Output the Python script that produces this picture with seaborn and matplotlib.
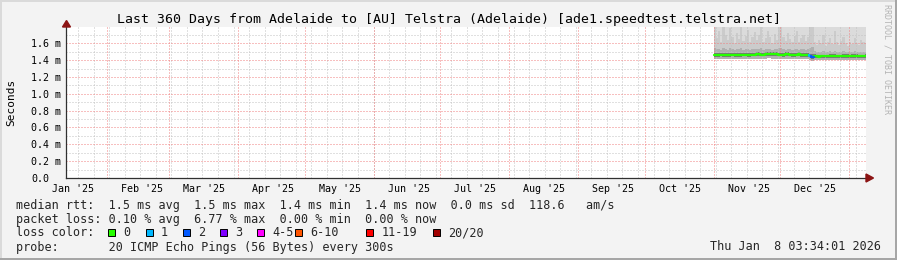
import numpy as np
import pandas as pd
import matplotlib
matplotlib.use("Agg")
import matplotlib.pyplot as plt
import matplotlib.dates as mdates
from matplotlib.patches import Polygon, Rectangle
import seaborn as sns

# ---------------- data ----------------
title = "Last 360 Days from Adelaide to [AU] Telstra (Adelaide) [ade1.speedtest.telstra.net]"
y_axis_label = "Seconds"
y_tick_values = [0.0, 0.2, 0.4, 0.6, 0.8, 1.0, 1.2, 1.4, 1.6]
y_tick_labels = ["0.0", "0.2 m", "0.4 m", "0.6 m", "0.8 m", "1.0 m", "1.2 m", "1.4 m", "1.6 m"]
month_labels = ["Jan '25", "Feb '25", "Mar '25", "Apr '25", "May '25", "Jun '25",
                "Jul '25", "Aug '25", "Sep '25", "Oct '25", "Nov '25", "Dec '25"]
month_starts = ["2025-01-01", "2025-02-01", "2025-03-01", "2025-04-01", "2025-05-01", "2025-06-01",
                "2025-07-01", "2025-08-01", "2025-09-01", "2025-10-01", "2025-11-01", "2025-12-01"]
graph_end = "2026-01-08 14:04"
graph_days = 360
y_top = 1.793

sample_start = "2025-11-01"   # daily samples, Nov 1 2025 .. Jan 8 2026
median_ms = [
    1.466, 1.463, 1.462, 1.465, 1.461, 1.458, 1.463, 1.464, 1.465, 1.466,
    1.464, 1.463, 1.462, 1.465, 1.466, 1.464, 1.463, 1.465, 1.466, 1.467,
    1.468, 1.466, 1.465, 1.467, 1.470, 1.472, 1.469, 1.468, 1.467, 1.466,
    1.466, 1.465, 1.467, 1.468, 1.466, 1.465, 1.464, 1.466, 1.467, 1.465,
    1.464, 1.463, 1.460, 1.452,
    1.440, 1.445,
    1.443, 1.442, 1.443, 1.444, 1.443, 1.444, 1.446, 1.448, 1.446, 1.444, 1.443, 1.444, 1.446, 1.447, 1.445,
    1.444, 1.446, 1.447, 1.445, 1.444, 1.443, 1.444, 1.445]
loss_pings = [0] * 43 + [1, 2, 0] + [0] * 23
smoke_min_ms = [
    1.412, 1.415, 1.414, 1.416, 1.410, 1.408, 1.413, 1.415, 1.416, 1.414,
    1.415, 1.414, 1.413, 1.416, 1.417, 1.415, 1.414, 1.416, 1.417, 1.418,
    1.418, 1.416, 1.415, 1.417, 1.419, 1.420, 1.418, 1.417, 1.416, 1.415,
    1.416, 1.415, 1.417, 1.418, 1.416, 1.415, 1.414, 1.416, 1.417, 1.415,
    1.414, 1.412, 1.408, 1.402,
    1.395, 1.400,
    1.402, 1.401, 1.402, 1.404, 1.403, 1.404, 1.405, 1.407, 1.405, 1.403, 1.402, 1.403, 1.405, 1.406, 1.404,
    1.403, 1.405, 1.406, 1.404, 1.403, 1.402, 1.403, 1.404]
smoke_lo_ms = [
    1.440, 1.442, 1.441, 1.443, 1.438, 1.436, 1.441, 1.442, 1.443, 1.442,
    1.442, 1.441, 1.440, 1.443, 1.444, 1.442, 1.441, 1.443, 1.444, 1.445,
    1.446, 1.444, 1.443, 1.445, 1.447, 1.449, 1.446, 1.445, 1.444, 1.443,
    1.443, 1.442, 1.444, 1.445, 1.443, 1.442, 1.441, 1.443, 1.444, 1.442,
    1.441, 1.440, 1.436, 1.428,
    1.418, 1.422,
    1.422, 1.421, 1.422, 1.423, 1.422, 1.423, 1.425, 1.427, 1.425, 1.423, 1.422, 1.423, 1.425, 1.426, 1.424,
    1.423, 1.425, 1.426, 1.424, 1.423, 1.422, 1.423, 1.424]
smoke_hi_ms = [
    1.490, 1.486, 1.485, 1.489, 1.484, 1.481, 1.487, 1.488, 1.489, 1.490,
    1.488, 1.487, 1.486, 1.489, 1.490, 1.488, 1.487, 1.489, 1.490, 1.491,
    1.492, 1.490, 1.489, 1.491, 1.494, 1.497, 1.493, 1.492, 1.491, 1.490,
    1.490, 1.489, 1.491, 1.492, 1.490, 1.489, 1.488, 1.490, 1.491, 1.489,
    1.488, 1.487, 1.484, 1.478,
    1.470, 1.468,
    1.465, 1.464, 1.465, 1.466, 1.465, 1.466, 1.468, 1.471, 1.468, 1.466, 1.465, 1.466, 1.468, 1.470, 1.467,
    1.466, 1.468, 1.470, 1.467, 1.466, 1.465, 1.466, 1.467]
smoke_mid_ms = [
    1.540, 1.528, 1.532, 1.525, 1.545, 1.530, 1.522, 1.538, 1.530, 1.524,
    1.533, 1.527, 1.541, 1.524, 1.531, 1.536, 1.522, 1.528, 1.534, 1.526,
    1.531, 1.542, 1.525, 1.529, 1.537, 1.532, 1.523, 1.533, 1.527, 1.540,
    1.544, 1.528, 1.524, 1.533, 1.527, 1.523, 1.530, 1.535, 1.524, 1.528,
    1.531, 1.525, 1.530, 1.545,
    1.560, 1.505,
    1.495, 1.500, 1.497, 1.506, 1.494, 1.499, 1.503, 1.496, 1.510, 1.498, 1.495, 1.500, 1.505, 1.497, 1.494,
    1.499, 1.496, 1.503, 1.497, 1.495, 1.501, 1.498, 1.497]
smoke_streak_ms = [
    1.80, 1.66, 1.74, 1.62, 1.80, 1.70, 1.64, 1.78, 1.68, 1.60,
    1.72, 1.65, 1.80, 1.63, 1.69, 1.76, 1.61, 1.67, 1.73, 1.64,
    1.70, 1.80, 1.62, 1.66, 1.75, 1.68, 1.60, 1.71, 1.64, 1.80,
    1.80, 1.67, 1.63, 1.72, 1.65, 1.61, 1.69, 1.74, 1.62, 1.66,
    1.70, 1.63, 1.68, 1.80,
    1.80, 1.62,
    1.58, 1.64, 1.60, 1.70, 1.57, 1.62, 1.66, 1.59, 1.75, 1.61, 1.58, 1.63, 1.68, 1.60, 1.57,
    1.62, 1.59, 1.66, 1.60, 1.58, 1.64, 1.61, 1.60]
smoke_max_ms = [
    2.10, 1.98, 2.25, 2.02, 2.40, 2.05, 1.96, 2.30, 2.08, 1.95,
    2.12, 2.00, 2.35, 1.97, 2.06, 2.20, 1.94, 2.03, 2.15, 1.99,
    2.07, 2.38, 1.96, 2.01, 2.22, 2.09, 1.93, 2.11, 2.00, 2.32,
    2.45, 2.04, 1.97, 2.13, 2.02, 1.95, 2.08, 2.18, 1.96, 2.03,
    2.10, 1.98, 2.06, 2.50,
    2.60, 1.99,
    1.92, 1.98, 1.94, 2.05, 1.91, 1.96, 2.01, 1.93, 2.12, 1.95, 1.92, 1.97, 2.03, 1.94, 1.91,
    1.96, 1.93, 2.00, 1.94, 1.92, 1.98, 1.95, 1.94]

loss_names = ["0", "1", "2", "3", "4-5", "6-10", "11-19", "20/20"]
loss_colors = ["#26ff00", "#00b8ff", "#0059ff", "#7e00ff", "#ff00ff", "#ff5500", "#ff0000", "#a10000"]

stats_line1 = "median rtt:  1.5 ms avg  1.5 ms max  1.4 ms min  1.4 ms now  0.0 ms sd  118.6   am/s"
stats_line2 = "packet loss: 0.10 % avg  6.77 % max  0.00 % min  0.00 % now"
stats_line3 = "loss color:"
stats_line4 = "probe:       20 ICMP Echo Pings (56 Bytes) every 300s"
stamp = "Thu Jan  8 03:34:01 2026"
watermark = "RRDTOOL / TOBI OETIKER"

# ---------------- figure ----------------
W, H, DPI = 897, 260, 100
sns.set_theme(style="white")
MONO = ["DejaVu Sans Mono"]
plt.rcParams["font.family"] = MONO

fig = plt.figure(figsize=(W / DPI, H / DPI), dpi=DPI, facecolor="#f3f3f3")


def fx(px):
    return px / W


def fy(py):
    return 1 - py / H


PL, PR, PT, PB = 66, 866, 27, 178
ax = fig.add_axes([fx(PL), fy(PB), (PR - PL) / W, (PB - PT) / H])
ax.set_facecolor("white")

t_end = pd.Timestamp(graph_end)
t_start = t_end - pd.Timedelta(days=graph_days)

# smoke
days = pd.date_range(sample_start, periods=len(median_ms), freq="D")
xs = mdates.date2num(list(days) + [t_end])


def ext(a):
    return list(a) + [a[-1]]


ax.fill_between(xs, ext(smoke_min_ms), ext(smoke_max_ms), step="post", color="#dbdbdb", lw=0, zorder=1)
ax.fill_between(xs, ext(smoke_min_ms), ext(smoke_streak_ms), step="post", color="#cbcbcb", lw=0, zorder=1.1)
ax.fill_between(xs, ext(smoke_min_ms), ext(smoke_mid_ms), step="post", color="#b0b0b0", lw=0, zorder=1.2)
ax.fill_between(xs, ext(smoke_lo_ms), ext(smoke_hi_ms), step="post", color="#787878", lw=0, zorder=1.3)

# grid (drawn over smoke like rrdtool)
grid_minor = dict(color="#c2c2c2", lw=0.72, ls=(0, (1, 2)), zorder=2)
grid_major = dict(color="#f08080", lw=0.72, ls=(0, (1, 2)), zorder=2.1)
weeks = pd.date_range("2025-01-19", t_end, freq="7D")
for w in weeks:
    ax.axvline(mdates.date2num(w), **grid_minor)
for yv in np.arange(0.1, y_top, 0.2):
    ax.axhline(yv, **grid_minor)
for m in pd.to_datetime(month_starts[1:] + ["2026-01-01"]):
    ax.axvline(mdates.date2num(m), **grid_major)
for yv in y_tick_values[1:]:
    ax.axhline(yv, **grid_major)

# median line coloured by loss
rows = []
for i, (d, m, lp) in enumerate(zip(days, median_ms, loss_pings)):
    t0 = mdates.date2num(d)
    t1 = xs[i + 1]
    prev = median_ms[i - 1] if i > 0 else m
    for tt, vv in ((t0, prev), (t0, m), (t1, m)):
        rows.append({"t": tt, "v": vv, "seg": i, "loss": loss_names[min(lp, 7)]})
df = pd.DataFrame(rows)
palette = dict(zip(loss_names, loss_colors))
sns.lineplot(data=df, x="t", y="v", hue="loss", units="seg", estimator=None, sort=False,
             palette=palette, lw=1.6, legend=False, ax=ax, zorder=3)
ax.set_xlim(mdates.date2num(t_start), mdates.date2num(t_end))
ax.set_ylim(0, y_top)
ax.set_xlabel("")
ax.set_ylabel("")

# ticks
label_pos = [mdates.date2num(pd.Timestamp(s) + pd.Timedelta(hours=378)) for s in month_starts]
ax.set_xticks(label_pos)
ax.set_xticklabels(month_labels, fontsize=7.2, family=MONO, color="black")
ax.set_yticks(y_tick_values)
ax.set_yticklabels(y_tick_labels, fontsize=7.2, family=MONO, color="black")
ax.tick_params(axis="x", length=0, pad=4.0)
ax.tick_params(axis="y", length=0, pad=25.2)
for lab in ax.get_yticklabels():
    lab.set_horizontalalignment("left")

for s in ("top", "right"):
    ax.spines[s].set_visible(False)
for s in ("left", "bottom"):
    ax.spines[s].set_color("#303030")
    ax.spines[s].set_linewidth(0.9)
    ax.spines[s].set_zorder(4)

# axis arrows
arrow_c = "#8c1414"
fig.add_artist(Polygon([(fx(62.5), fy(27)), (fx(70.5), fy(27)), (fx(66.5), fy(20.5))],
                       closed=True, color=arrow_c, transform=fig.transFigure))
fig.add_artist(Polygon([(fx(866), fy(174)), (fx(866), fy(182)), (fx(873.5), fy(178))],
                       closed=True, color=arrow_c, transform=fig.transFigure))

# texts
fig.text(fx(448.5), fy(19), title, ha="center", va="center", fontsize=9.55, family=MONO, color="black")
fig.text(fx(11), fy(102.5), y_axis_label, rotation=90, ha="center", va="center",
         fontsize=8.0, family=MONO, color="black")
fig.text(fx(887), fy(4), watermark, rotation=270, ha="center", va="top",
         fontsize=6.0, family=MONO, color="#b4b4b4")

LX = 16
fig.text(fx(LX), fy(208.5), stats_line1, ha="left", va="baseline", fontsize=8.5, family=MONO)
fig.text(fx(LX), fy(222.5), stats_line2, ha="left", va="baseline", fontsize=8.5, family=MONO)
fig.text(fx(LX), fy(236.5), stats_line3, ha="left", va="baseline", fontsize=8.5, family=MONO)
fig.text(fx(LX), fy(250.5), stats_line4, ha="left", va="baseline", fontsize=8.5, family=MONO)
fig.text(fx(881), fy(250.5), stamp, ha="right", va="baseline", fontsize=8.5, family=MONO)

box_x = [108, 145.5, 183, 220, 257, 295, 366, 433]
for bx, name, col in zip(box_x, loss_names, loss_colors):
    fig.add_artist(Rectangle((fx(bx), fy(236)), 7 / W, 7 / H, facecolor=col, edgecolor="black",
                             lw=0.7, transform=fig.transFigure))
    fig.text(fx(bx + 15.5), fy(236.5), name, ha="left", va="baseline", fontsize=8.5, family=MONO)

# 3D frame
fig.add_artist(Rectangle((0, fy(2)), 1, 2 / H, facecolor="#dadada", lw=0, transform=fig.transFigure))
fig.add_artist(Rectangle((0, 0), 2 / W, 1, facecolor="#dadada", lw=0, transform=fig.transFigure))
fig.add_artist(Rectangle((fx(W - 2), 0), 2 / W, 1, facecolor="#a6a6a6", lw=0, transform=fig.transFigure))
fig.add_artist(Rectangle((0, 0), 1, 2 / H, facecolor="#a6a6a6", lw=0, transform=fig.transFigure))

fig.savefig("out.png", dpi=DPI, facecolor=fig.get_facecolor())
